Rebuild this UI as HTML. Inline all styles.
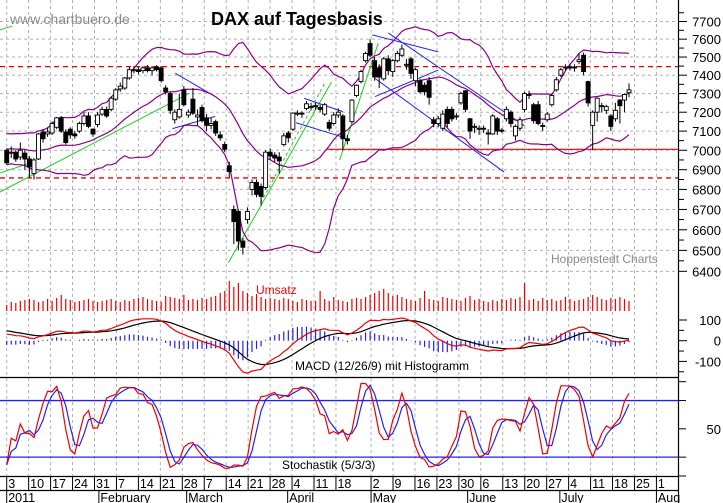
<!DOCTYPE html>
<html><head><meta charset="utf-8">
<style>
html,body{margin:0;padding:0;background:#fff;}
svg{display:block;font-family:"Liberation Sans",Arial,sans-serif;}
</style></head>
<body>
<svg id="chart" width="723" height="503" viewBox="0 0 723 503" xmlns="http://www.w3.org/2000/svg">
  <rect x="0" y="0" width="723" height="503" fill="#fff"/>
  <g id="grid"></g>
  <g id="annot"></g>
  <g id="bands"></g>
  <g id="candles"></g>
  <g id="volume"></g>
  <g id="macd"></g>
  <g id="stoch"></g>
  <g id="axes"></g>
  <text x="10" y="24" font-size="14" fill="#8a8a8a">www.chartbuero.de</text>
  <text x="211" y="25" font-size="18" font-weight="bold" fill="#000">DAX auf Tagesbasis</text>
  <text x="551" y="263" font-size="12" fill="#8a8a8a">Hoppenstedt Charts</text>
  <text x="256" y="294" font-size="12" fill="#e00">Umsatz</text>
  <text x="295" y="370" font-size="12" fill="#000">MACD (12/26/9) mit Histogramm</text>
  <text x="282" y="469" font-size="12" fill="#000">Stochastik (5/3/3)</text>
</svg>
<script>
// ---- data ----
const opens=[7000,6985,6990,6965,6985,6955,6880,6955,7095,7085,7090,7120,7170,7095,7110,7085,7100,7140,7180,7110,7135,7190,7215,7215,7270,7325,7330,7385,7425,7430,7425,7440,7425,7445,7440,7330,7300,7160,7175,7320,7185,7270,7175,7225,7170,7130,7150,7080,7030,6920,6700,6690,6545,6650,6800,6835,6815,6810,6990,6975,6965,7030,7090,7110,7190,7195,7220,7225,7235,7225,7190,7145,7140,7185,7180,7060,7150,7290,7365,7480,7575,7480,7440,7380,7490,7420,7480,7510,7455,7490,7370,7370,7345,7370,7160,7140,7115,7215,7215,7180,7250,7315,7165,7120,7110,7115,7090,7085,7165,7105,7165,7200,7075,7115,7215,7290,7240,7240,7130,7160,7240,7320,7400,7440,7440,7445,7475,7510,7365,7130,7200,7230,7210,7180,7165,7265,7265,7305];
const highs=[7010,7020,7000,7040,7000,6970,6960,7090,7110,7120,7150,7175,7180,7110,7120,7100,7150,7200,7200,7115,7200,7230,7230,7285,7330,7360,7390,7445,7450,7445,7450,7455,7450,7455,7450,7345,7310,7215,7300,7340,7215,7330,7215,7240,7190,7170,7160,7100,7045,6940,6720,6700,6560,6710,6850,6850,6830,7000,7010,6990,6990,7090,7100,7200,7210,7205,7260,7250,7250,7240,7250,7160,7200,7220,7190,7080,7270,7350,7430,7530,7600,7500,7460,7500,7510,7490,7535,7570,7490,7500,7440,7380,7360,7390,7175,7180,7210,7230,7230,7195,7310,7320,7170,7140,7130,7130,7110,7190,7175,7115,7230,7210,7135,7175,7310,7315,7250,7260,7145,7200,7300,7390,7440,7460,7460,7460,7520,7525,7370,7210,7280,7250,7240,7190,7250,7270,7300,7355];
const lows=[6925,6960,6940,6950,6900,6860,6850,6950,7040,7070,7080,7110,7090,7030,7060,7060,7090,7130,7115,7070,7120,7180,7170,7205,7260,7310,7320,7375,7410,7405,7410,7415,7400,7420,7360,7295,7190,7140,7165,7230,7170,7185,7130,7145,7100,7110,7075,7050,6990,6860,6530,6500,6480,6630,6770,6760,6720,6800,6950,6940,6880,7020,7040,7100,7180,7170,7210,7210,7215,7200,7180,7100,7130,7170,7000,7030,7140,7280,7355,7470,7500,7370,7330,7370,7400,7390,7470,7500,7430,7380,7340,7300,7290,7240,7120,7120,7100,7120,7150,7160,7240,7200,7060,7090,7080,7090,7030,7080,7080,7090,7150,7120,7050,7100,7200,7270,7140,7130,7100,7150,7230,7310,7390,7425,7425,7420,7460,7400,7230,7000,7150,7200,7190,7100,7150,7140,7200,7280];
const closes=[6935,6990,6955,7000,6955,6915,6950,7085,7060,7095,7140,7170,7100,7040,7080,7075,7140,7180,7125,7085,7185,7215,7180,7275,7320,7340,7385,7430,7430,7420,7440,7425,7440,7430,7370,7310,7210,7200,7215,7240,7200,7195,7185,7155,7130,7140,7090,7065,7005,6890,6640,6545,6515,6690,6835,6775,6765,6990,6970,6960,6945,7075,7065,7195,7195,7190,7245,7230,7230,7215,7240,7115,7185,7200,7060,7050,7265,7345,7420,7520,7510,7390,7390,7490,7425,7480,7520,7545,7460,7410,7430,7310,7310,7280,7140,7165,7190,7140,7165,7180,7300,7215,7100,7125,7115,7110,7085,7180,7100,7100,7215,7140,7125,7160,7300,7295,7155,7140,7125,7190,7290,7375,7430,7445,7445,7440,7485,7420,7250,7200,7275,7235,7230,7125,7210,7235,7295,7320];
const volumes=[6,9,8,10,11,12,11,9,10,12,10,13,16,12,11,9,10,11,12,10,9,10,11,12,10,9,11,10,12,13,14,12,11,10,9,15,14,13,12,16,11,12,11,13,12,14,15,18,20,30,24,28,20,18,15,17,14,12,13,12,11,13,12,10,9,12,11,10,10,20,12,10,14,11,10,9,12,13,12,14,16,18,20,22,18,15,16,14,12,11,10,13,20,12,11,10,14,13,12,11,10,13,15,11,12,10,9,11,10,12,11,13,12,14,28,11,12,10,13,11,12,10,11,14,12,10,11,12,14,16,14,12,11,13,12,14,12,10];
// closes before Jan 3 2011 (Nov/Dec 2010) for indicator warm-up
const priorCloses=[6800,6760,6830,6850,6830,6790,6820,6740,6720,6690,6700,6870,6950,6990,7000,6980,7020,7010,7030,7010,7020,6990,6990,7010,7060,7080,7060,7050,7030,6990,6915];
const priceTicks=[6400,6500,6600,6700,6800,6900,7000,7100,7200,7300,7400,7500,7600,7700];
const weekLabels=['3','10','17','24','31','7','14','21','28','7','14','21','28','4','11','18','2','9','16','23','30','6','13','20','27','4','11','18','25','1'];
const weekDays=[0,5,10,15,20,25,30,35,40,45,50,55,60,65,70,75,83,88,93,98,103,108,113,118,123,128,133,138,143,148];
const monthLabels=['2011','February','March','April','May','June','July','August'];
const monthDays=[0,21,41,64,83,105,126,148];
const resistanceLevels=[7447,6858];
const supportLevel=7005;
// trend lines: [day1, price1, day2, price2]
const greenLines=[[-1.5,6787,40.3,7303],[-1.5,6883,5.9,6940],[-1.5,7652,1.2,7674],[48.8,6441,71.5,7363],[73.3,6950,81.8,7578]];
const greenDotted=[[55.9,6732,70,7356]];
const blueLines=[[37.1,7411,45.9,7284],[36.5,7113,45.9,7178],[65.5,7274,74,7203],[63.7,7144,73.8,7070],[80.5,7624,95,7529],[84,7635,114,7128],[81.1,7382,109.5,6888],[81.1,7284,95,7428]];

// ---- scales ----
const NS='http://www.w3.org/2000/svg';
function yP(p){return 21.5+1351*Math.log(7700/p);}
function xC(i){return 6.7+i*(622.3/137);}
function xT(d){return 6.7+4.39*d;}
function yM(v){return 340.7-v*0.207;}
function yS(v){return 476-v*0.943;}
function yV(v){return 311-v;}
function mk(parent,tag,attrs){const e=document.createElementNS(NS,tag);for(const k in attrs)e.setAttribute(k,attrs[k]);document.getElementById(parent).appendChild(e);return e;}
function pathD(pts){return pts.map((p,j)=>(j?'L':'M')+p[0].toFixed(1)+' '+p[1].toFixed(1)).join(' ');}

// ---- grid ----
priceTicks.forEach(p=>{
  const e=mk('grid','line',{x1:0,x2:678,y1:yP(p),y2:yP(p),stroke:'#b0b0b0','stroke-dasharray':'3,3'});
  
  
});
weekDays.forEach(d=>{
  const e=mk('grid','line',{x1:xT(d),x2:xT(d),y1:0,y2:476,stroke:'#b0b0b0','stroke-dasharray':'3,3'});
  
  
});

// ---- annotations ----
resistanceLevels.forEach(p=>{
  const e=mk('annot','line',{x1:0,x2:678,y1:yP(p),y2:yP(p),stroke:'#e00','stroke-width':1.3,'stroke-dasharray':'5,4'});
  
  
});
{
  const e=mk('annot','line',{x1:xC(70.4),x2:678,y1:yP(supportLevel),y2:yP(supportLevel),stroke:'#e00','stroke-width':1.2});
  
  
}
greenLines.forEach(l=>{
  const e=mk('annot','line',{x1:xC(l[0]),y1:yP(l[1]),x2:xC(l[2]),y2:yP(l[3]),stroke:'#2c2',});
  
  
});
greenDotted.forEach(l=>{
  const e=mk('annot','line',{x1:xC(l[0]),y1:yP(l[1]),x2:xC(l[2]),y2:yP(l[3]),stroke:'#2c2','stroke-dasharray':'3,3'});
  
  
});
blueLines.forEach(l=>{
  const e=mk('annot','line',{x1:xC(l[0]),y1:yP(l[1]),x2:xC(l[2]),y2:yP(l[3]),stroke:'#22e'});
  
  
});

// ---- bollinger bands (20,2) ----
const all=priorCloses.concat(closes);
const off=priorCloses.length;
const up=[],mid=[],lo=[];
for(let i=0;i<closes.length;i++){
  const w=all.slice(i+off-19,i+off+1);
  const m=w.reduce((a,b)=>a+b,0)/w.length;
  const sd=Math.sqrt(w.reduce((a,b)=>a+(b-m)*(b-m),0)/w.length);
  mid.push([xC(i),yP(m)]);up.push([xC(i),yP(m+2*sd)]);lo.push([xC(i),yP(m-2*sd)]);
}
[[up,'bollinger-upper'],[mid,'bollinger-middle'],[lo,'bollinger-lower']].forEach(b=>{
  const e=mk('bands','path',{d:pathD(b[0]),fill:'none',stroke:'#8b008b','stroke-width':1.2});
  
  
});

// ---- candles ----
closes.forEach((c,i)=>{
  const x=xC(i),o=opens[i];
  const w=mk('candles','line',{x1:x,x2:x,y1:yP(highs[i]),y2:yP(lows[i]),stroke:'#000'});
  
  
  const top=yP(Math.max(o,c)),bot=yP(Math.min(o,c));
  const b=mk('candles','rect',{x:x-2,y:top,width:4,height:Math.max(1,bot-top),fill:c>=o?'#fff':'#000',stroke:'#000','stroke-width':0.9});
  
  
});

// ---- volume ----
volumes.forEach((v,i)=>{
  const e=mk('volume','line',{x1:xC(i),x2:xC(i),y1:311,y2:yV(v),stroke:'#e00','stroke-width':1.2});
  
  
});

// ---- MACD ----
function ema(arr,n){const k=2/(n+1);const out=[arr[0]];for(let i=1;i<arr.length;i++)out.push(arr[i]*k+out[i-1]*(1-k));return out;}
const e12=ema(all,12),e26=ema(all,26);
const macdLine=all.map((v,i)=>e12[i]-e26[i]);
const sig=ema(macdLine,9);
const mPts=[],sPts=[];
closes.forEach((c,i)=>{
  const m=macdLine[i+off],s=sig[i+off];
  mPts.push([xC(i),yM(m)]);sPts.push([xC(i),yM(s)]);
  const h=(m-s)*1.2;
  const e=mk('macd','line',{x1:xC(i),x2:xC(i),y1:yM(0),y2:yM(h)-(Math.abs(h)<1?1:0),stroke:'#22e','stroke-width':1.2});
  
  
});
{
  const e=mk('macd','path',{d:pathD(sPts),fill:'none',stroke:'#000','stroke-width':1.2});
  
  
  const f=mk('macd','path',{d:pathD(mPts),fill:'none',stroke:'#e00','stroke-width':1.2});
  
  
}

// ---- stochastic ----
const rawK=closes.map((c,i)=>{const s=Math.max(0,i-4);const hh=Math.max(...highs.slice(s,i+1)),ll=Math.min(...lows.slice(s,i+1));return hh>ll?(c-ll)/(hh-ll)*100:50;});
function sma(a,n){return a.map((v,i)=>{const w=a.slice(Math.max(0,i-n+1),i+1);return w.reduce((x,y)=>x+y,0)/w.length;});}
const slowK=sma(rawK,3),slowD=sma(slowK,3);
[80,20].forEach(v=>{
  const e=mk('stoch','line',{x1:0,x2:678,y1:yS(v),y2:yS(v),stroke:'#22e','stroke-width':1.3});
  
  
});
{
  const e=mk('stoch','path',{d:pathD(slowD.map((v,i)=>[xC(i),yS(v)])),fill:'none',stroke:'#22e','stroke-width':1.2});
  
  
  const f=mk('stoch','path',{d:pathD(slowK.map((v,i)=>[xC(i),yS(v)])),fill:'none',stroke:'#e00','stroke-width':1.2});
  
  
}

// ---- axes ----
[[0,678,377.5,377.5],[0,678,476.5,476.5],[0,678,490.5,490.5],[678.5,678.5,0,476],[678.5,678.5,476,503]].forEach(l=>{
  const e=mk('axes','line',{x1:l[0],x2:l[1],y1:l[2],y2:l[3],stroke:'#000','stroke-width':1.2});
  
  
});
priceTicks.forEach(p=>{
  const t=mk('axes','line',{x1:678,x2:687,y1:yP(p),y2:yP(p),stroke:'#000'});
  
  
  const m=mk('axes','line',{x1:678,x2:684,y1:yP(p+50),y2:yP(p+50),stroke:'#000'});
  
  
  const e=mk('axes','text',{x:721,y:yP(p)+5,'font-size':13,'text-anchor':'end',fill:'#000'});
  e.textContent=p;
  
  
});
[100,50,0,-50,-100,-150].forEach(v=>{
  const t=mk('axes','line',{x1:678,x2:v%100===0?687:684,y1:yM(v),y2:yM(v),stroke:'#000'});
  
  
  if(v%100===0){
    const e=mk('axes','text',{x:721,y:yM(v)+5,'font-size':13,'text-anchor':'end',fill:'#000'});
    e.textContent=v;
    
    
  }
});
[100,80,50,20,0].forEach(v=>{
  const t=mk('axes','line',{x1:678,x2:686,y1:yS(v),y2:yS(v),stroke:'#000'});
  
  
});
{
  const e=mk('axes','text',{x:721,y:yS(50)+5,'font-size':13,'text-anchor':'end',fill:'#000'});
  e.textContent='50';
  
  
}
weekLabels.forEach((lab,k)=>{
  const x=xT(weekDays[k]);
  const t=mk('axes','line',{x1:x,x2:x,y1:476,y2:490,stroke:'#000'});
  
  
  const e=mk('axes','text',{x:x+1.5,y:488,'font-size':12.5,fill:'#000'});
  e.textContent=lab;
  
  
});
monthLabels.forEach((lab,k)=>{
  const x=xT(monthDays[k]);
  const t=mk('axes','line',{x1:x,x2:x,y1:490,y2:503,stroke:'#000'});
  
  
  const e=mk('axes','text',{x:x+1.5,y:502,'font-size':12.5,fill:'#000'});
  e.textContent=lab;
  
  
});
// clip labels beyond axis
{
  const r=mk('axes','rect',{x:679.5,y:477,width:44,height:26,fill:'#fff'});
  
  
}
</script>
</body></html>
